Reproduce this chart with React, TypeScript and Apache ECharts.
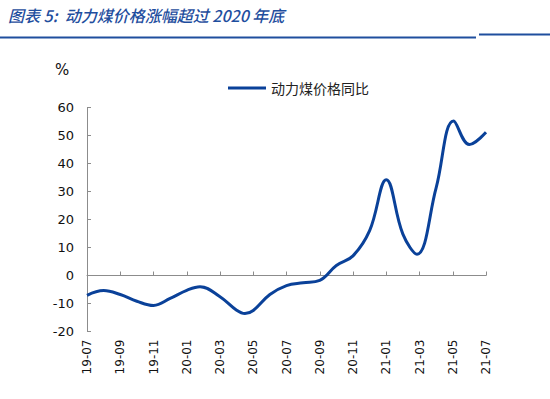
import React, { useEffect, useRef } from "react";
import * as echarts from "echarts";

// Month labels shown on the x axis (every two months, from 19-07)
const categories = [
  "19-07", "19-08", "19-09", "19-10", "19-11", "19-12",
  "20-01", "20-02", "20-03", "20-04", "20-05", "20-06",
  "20-07", "20-08", "20-09", "20-10", "20-11", "20-12",
  "21-01", "21-02", "21-03", "21-04", "21-05", "21-06", "21-07",
];
// Time position of each reading, in months since 19-07
const monthPos = [
  0, 1, 2, 3, 4, 5, 6, 6.8, 8, 9, 9.5, 10, 11, 12, 13, 14, 15, 16, 17, 18, 19, 19.85, 21, 22.05, 23, 24,
];
// Thermal coal price YoY (%) at those positions
const coalYoY = [
  -7.1, -5.4, -6.8, -9.2, -10.7, -8.2, -5.3, -4.0, -7.6, -12.4, -13.6, -12.5, -6.8,
  -3.6, -2.6, -1.7, 3.6, 7.0, 16.0, 34.2, 14.8, 7.6, 31.3, 55.2, 46.8, 51.2,
];
const seriesName = "动力煤价格同比";
const titleText = "图表 5:  动力煤价格涨幅超过 2020 年底";

export default function App() {
  const ref = useRef<HTMLDivElement>(null);
  useEffect(() => {
    const chart = echarts.init(ref.current!, null, { renderer: "svg" });
    const axisGrey = "#8c8c8c";
    const lineBlue = "#0A4199";
    chart.setOption({
      animation: false,
      backgroundColor: "#ffffff",
      textStyle: { fontFamily: "DejaVu Sans" },
      grid: { left: 87, right: 64, top: 107.5, bottom: 67.5, containLabel: false },
      legend: {
        left: 223,
        top: 76,
        icon: "rect",
        itemWidth: 38,
        itemHeight: 3,
        itemGap: 10,
        textStyle: { fontSize: 14, color: "#222", fontFamily: "Noto Sans CJK SC" },
        data: [seriesName],
      },
      graphic: [
        {
          type: "text",
          left: 8,
          top: 7,
          style: {
            text: titleText,
            fontSize: 16,
            fontStyle: "italic",
            fontWeight: 500,
            fontFamily: "Noto Sans CJK SC",
            fill: "#1F4E9E",
          },
        },
        {
          type: "line",
          shape: { x1: 0, y1: 37.5, x2: 476, y2: 37.5 },
          style: { stroke: "#1F4E9E", lineWidth: 2 },
        },
        {
          type: "line",
          shape: { x1: 479, y1: 34.5, x2: 550, y2: 34.5 },
          style: { stroke: "#1F4E9E", lineWidth: 2 },
        },
        {
          type: "text",
          left: 55,
          top: 62,
          style: { text: "%", fontSize: 15, fontFamily: "DejaVu Sans", fill: "#111" },
        },
      ],
      xAxis: [
        {
          type: "value",
          min: 0,
          max: categories.length - 1,
          interval: 2,
          position: "bottom",
          splitLine: { show: false },
          axisLine: { show: false, onZero: false },
          axisTick: { show: false },
          axisLabel: {
            rotate: 90,
            fontSize: 12,
            color: "#111",
            margin: 8,
            fontFamily: "DejaVu Sans",
            formatter: (v: number) => categories[Math.round(v)] ?? "",
          },
        },
        {
          type: "value",
          min: 0,
          max: categories.length - 1,
          interval: 2,
          position: "bottom",
          splitLine: { show: false },
          axisLine: { show: true, onZero: true, lineStyle: { color: axisGrey, width: 1 } },
          axisTick: { show: true, inside: true, length: 4, lineStyle: { color: axisGrey } },
          axisLabel: { show: false },
        },
      ],
      yAxis: {
        type: "value",
        min: -20,
        max: 60,
        interval: 10,
        axisLine: { show: true, lineStyle: { color: axisGrey } },
        axisTick: { show: true, inside: true, length: 4, lineStyle: { color: axisGrey } },
        splitLine: { show: false },
        axisLabel: { fontSize: 13, color: "#111", margin: 13, fontFamily: "DejaVu Sans" },
      },
      series: [
        {
          name: seriesName,
          type: "line",
          data: monthPos.map((m, i) => [m, coalYoY[i]]),
          xAxisIndex: 0,
          smooth: 0.4,
          symbol: "none",
          lineStyle: { color: lineBlue, width: 3 },
          itemStyle: { color: lineBlue },
        },
      ],
    });
    return () => chart.dispose();
  }, []);
  return <div ref={ref} style={{ width: 550, height: 399, position: "absolute", left: 0, top: 0 }} />;
}
